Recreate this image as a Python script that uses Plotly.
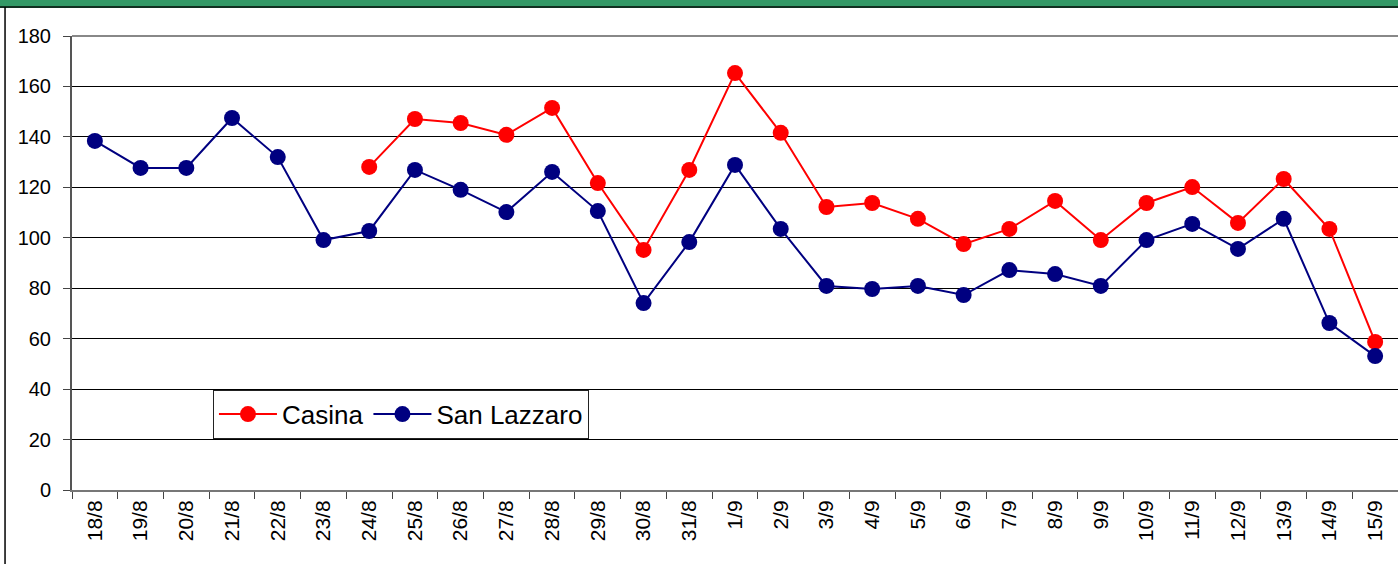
import plotly.graph_objects as go

# giorni (asse x)
giorni = ['18/8', '19/8', '20/8', '21/8', '22/8', '23/8', '24/8', '25/8', '26/8', '27/8',
          '28/8', '29/8', '30/8', '31/8', '1/9', '2/9', '3/9', '4/9', '5/9', '6/9',
          '7/9', '8/9', '9/9', '10/9', '11/9', '12/9', '13/9', '14/9', '15/9']

casina = [None, None, None, None, None, None, 128.1, 147.1, 145.5, 140.8,
          151.5, 121.7, 95.2, 126.9, 165.3, 141.6, 112.2, 113.8, 107.5, 97.5,
          103.5, 114.6, 99.1, 113.8, 120.1, 105.9, 123.3, 103.5, 58.7]

san_lazzaro = [138.4, 127.7, 127.7, 147.5, 132.0, 99.1, 102.7, 126.9, 119.0, 110.2,
               126.1, 110.6, 74.1, 98.3, 128.9, 103.5, 80.9, 79.7, 80.9, 77.3,
               87.2, 85.6, 80.9, 99.1, 105.5, 95.6, 107.5, 66.2, 53.1]

y_ticks = [0, 20, 40, 60, 80, 100, 120, 140, 160, 180]

fig = go.Figure()
fig.add_trace(go.Scatter(x=giorni, y=casina, name='Casina', mode='lines+markers',
                         line=dict(color='#ff0000', width=2),
                         marker=dict(color='#ff0000', size=16)))
fig.add_trace(go.Scatter(x=giorni, y=san_lazzaro, name='San Lazzaro', mode='lines+markers',
                         line=dict(color='#000080', width=2),
                         marker=dict(color='#000080', size=16)))

fig.update_layout(
    width=1398, height=564,
    paper_bgcolor='white', plot_bgcolor='white',
    margin=dict(l=72, r=0, t=36, b=74, autoexpand=False),
    font=dict(family='Arial', color='black', size=20),
    showlegend=True,
    legend=dict(orientation='h', x=0.1063, y=0.167, xanchor='left', yanchor='middle',
                bordercolor='#222', borderwidth=1, bgcolor='white',
                font=dict(size=26), itemwidth=58, tracegroupgap=0),
    xaxis=dict(type='category', tickangle=-90, showgrid=False, automargin=False,
               ticks='outside', ticklen=7, tickcolor='#444', tickson='boundaries',
               showline=True, linecolor='#777', linewidth=2,
               range=[-0.5, len(giorni) - 0.5]),
    yaxis=dict(range=[0, 180], tickvals=y_ticks, showgrid=True, gridcolor='black', gridwidth=1,
               ticks='outside', ticklen=7, tickcolor='#444', zeroline=False, automargin=False,
               showline=True, linecolor='#555', linewidth=2, ticklabelstandoff=8),
    shapes=[
        # banda verde in alto
        dict(type='rect', xref='paper', yref='paper', x0=-0.06, x1=1.01, y0=1.064, y1=1.2,
             fillcolor='#339966', line=dict(width=0), layer='above'),
        dict(type='line', xref='paper', yref='paper', x0=-0.06, x1=1.01, y0=1.064, y1=1.064,
             line=dict(color='#103020', width=2)),
        # bordo sinistro
        dict(type='line', xref='paper', yref='paper', x0=-0.0505, x1=-0.0505, y0=1.064, y1=-0.2,
             line=dict(color='black', width=1.5)),
        # bordo superiore area grafico
        dict(type='line', xref='paper', yref='paper', x0=0, x1=1, y0=1, y1=1,
             line=dict(color='#888', width=2)),
    ],
)
fig.update_xaxes(tickfont_size=21)
fig.update_yaxes(tickfont_size=20)

fig.write_html('out.html', config=dict(displayModeBar=False),
               post_script="document.body.style.margin='0';")
